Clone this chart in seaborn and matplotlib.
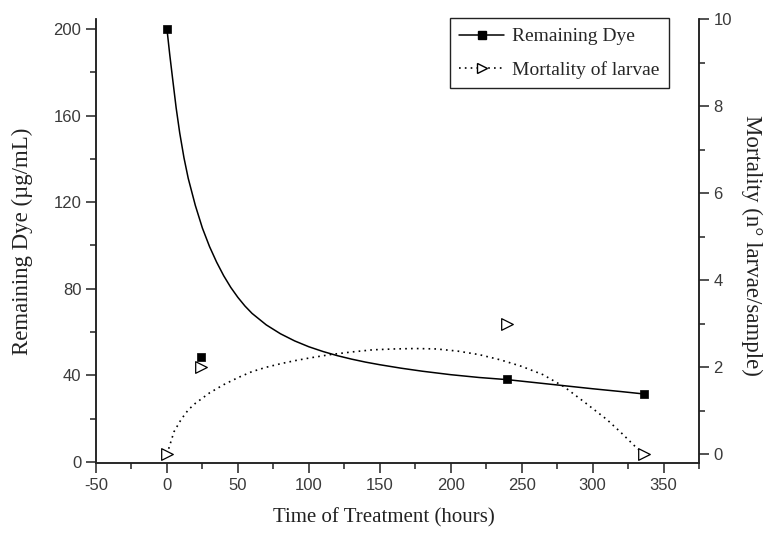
import matplotlib
matplotlib.use("Agg")
import matplotlib.pyplot as plt
from matplotlib.lines import Line2D
from matplotlib.ticker import MultipleLocator
import seaborn as sns
import pandas as pd

# measured points
time_h = [0, 24, 240, 336]
remaining_dye = [200, 48.5, 38.2, 31.4]
mortality = [0, 2, 3, 0]

# fitted curves
dye_fit_x = [0, 2, 4, 6.5, 9, 12, 15, 20, 25, 30, 35, 40, 45, 50, 55, 60, 70, 80,
             90, 100, 110, 120, 130, 140, 150, 165, 180, 200, 220, 240, 260, 280,
             300, 320, 336]
dye_fit_y = [200, 188, 177, 163.5, 152, 140.5, 131, 118.5, 108, 99.5, 92.3, 86,
             80.6, 76, 72, 68.6, 63.3, 59.2, 55.9, 53.2, 51, 49.1, 47.5, 46.1,
             44.9, 43.3, 41.9, 40.3, 39, 38, 36.6, 35.2, 33.8, 32.5, 31.4]
mort_fit_x = [0, 5, 10, 15, 20, 30, 40, 50, 60, 70, 80, 90, 100, 115, 130, 145,
              160, 175, 190, 205, 220, 235, 250, 265, 280, 295, 310, 320, 330, 336]
mort_fit_y = [0, 0.52, 0.8, 1.02, 1.17, 1.41, 1.6, 1.76, 1.9, 2.0, 2.08, 2.15,
              2.21, 2.29, 2.35, 2.4, 2.42, 2.43, 2.42, 2.37, 2.29, 2.17, 2.02,
              1.83, 1.55, 1.18, 0.8, 0.5, 0.18, 0]

x_ticks = [-50, 0, 50, 100, 150, 200, 250, 300, 350]
left_ticks = [0, 40, 80, 120, 160, 200]
right_ticks = [0, 2, 4, 6, 8, 10]

sns.set_style("ticks")
plt.rcParams["font.family"] = ["Liberation Sans", "DejaVu Sans"]

serif = ["Liberation Serif", "DejaVu Serif"]
tick_color = "#3a3a3a"
ink = "#222222"

fig = plt.figure(figsize=(7.76, 5.34), dpi=100)
ax = fig.add_axes([96 / 776, 1 - 463 / 534, (699 - 96) / 776, (463 - 19) / 534])
ax2 = ax.twinx()

pts = pd.DataFrame({"t": time_h, "dye": remaining_dye, "mort": mortality})
dfit = pd.DataFrame({"t": dye_fit_x, "y": dye_fit_y})
mfit = pd.DataFrame({"t": mort_fit_x, "y": mort_fit_y})

sns.lineplot(data=dfit, x="t", y="y", ax=ax, color="black", lw=1.1, sort=False,
             estimator=None, zorder=2)
sns.scatterplot(data=pts, x="t", y="dye", ax=ax, marker="s", s=38, color="black",
                edgecolor="black", linewidth=0.5, zorder=3)

sns.lineplot(data=mfit, x="t", y="y", ax=ax2, color="black", lw=1.2, sort=False,
             estimator=None, zorder=2)
ax2.lines[-1].set_linestyle((0, (1, 2.5)))
sns.scatterplot(data=pts, x="t", y="mort", ax=ax2, marker=">", s=70,
                facecolor="white", edgecolor="black", linewidth=0.9, zorder=3)

ax.set_xlim(-50, 375)
ax.set_ylim(-0.5, 204.6)
ax2.set_ylim(-0.2, 10)

ax.set_xticks(x_ticks)
ax.set_xticklabels([str(v) for v in x_ticks])
ax.set_yticks(left_ticks)
ax.set_yticklabels([str(v) for v in left_ticks])
ax2.set_yticks(right_ticks)
ax2.set_yticklabels([str(v) for v in right_ticks])
ax.xaxis.set_minor_locator(MultipleLocator(25))
ax.yaxis.set_minor_locator(MultipleLocator(20))
ax2.yaxis.set_minor_locator(MultipleLocator(1))

for a in (ax, ax2):
    a.tick_params(which="major", length=7, width=1.1, color=ink,
                  labelsize=12, labelcolor=tick_color, direction="out")
    a.tick_params(which="minor", length=4, width=1.1, color=ink, direction="out")
    for s in a.spines.values():
        s.set_linewidth(1.1)
        s.set_color(ink)
    a.spines["top"].set_visible(False)

ax.set_xlabel("Time of Treatment (hours)", family=serif, fontsize=15, color=ink,
              va="center")
ax.xaxis.set_label_coords((384 - 96) / 603, -(518 - 463) / 444)
ax.set_ylabel("Remaining Dye (µg/mL)", family=serif, fontsize=16.5, color=ink,
              va="center", ha="center")
ax.yaxis.set_label_coords((22 - 96) / 603, 0.5)
ax2.set_ylabel("Mortality (n° larvae/sample)", family=serif, fontsize=16.5,
               color=ink, rotation=270, va="center", ha="center")
ax2.yaxis.set_label_coords((752 - 96) / 603, 0.49)

handles = [
    Line2D([], [], color="black", lw=1.1, marker="s", markersize=5.5),
    Line2D([], [], color="black", lw=1.2, ls=(0, (1, 2.5)), marker=">", markersize=7.5,
           markerfacecolor="white", markeredgecolor="black"),
]
leg = ax.legend(handles, ["Remaining Dye", "Mortality of larvae"],
                loc="upper right", bbox_to_anchor=((669 - 96) / 603, (463 - 18) / 444),
                frameon=True, fancybox=False, framealpha=1, edgecolor=ink,
                prop={"family": serif, "size": 14}, handlelength=2.3,
                handletextpad=0.4, borderpad=0.5, labelspacing=0.8, borderaxespad=0)
leg.get_frame().set_linewidth(1.0)
leg.set_zorder(10)

fig.savefig("out.png", dpi=100)
